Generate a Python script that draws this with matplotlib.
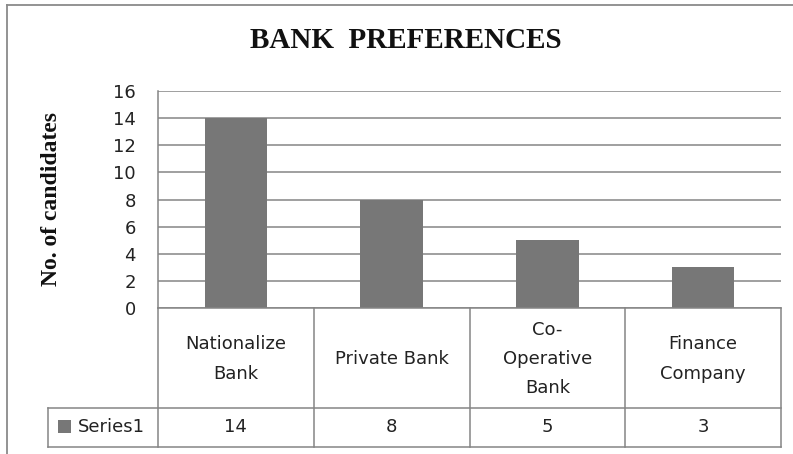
import matplotlib
matplotlib.use("Agg")
import matplotlib.pyplot as plt
import matplotlib.transforms as mtransforms
from matplotlib.lines import Line2D
from matplotlib.patches import Rectangle

# Data
categories = ["Nationalize\nBank", "Private Bank", "Co-\nOperative\nBank", "Finance\nCompany"]
series_name = "Series1"
values = [14, 8, 5, 3]
y_ticks = [0, 2, 4, 6, 8, 10, 12, 14, 16]

W, H = 793, 454
DPI = 100
fig = plt.figure(figsize=(W / DPI, H / DPI), dpi=DPI)
fig.patch.set_facecolor("white")

def fx(px):
    return px / W

def fy(py):
    return 1 - py / H

SANS = "DejaVu Sans"
SERIF = "Liberation Serif"
TEXT = "#222222"
GRID = "#858585"
BAR = "#777777"
FS = 13

# Plot area
left, right, top, bottom = 158, 781, 91, 308
ax = fig.add_axes([fx(left), fy(bottom), fx(right - left), (bottom - top) / H])
x = list(range(len(values)))
ax.bar(x, values, width=0.4, color=BAR, zorder=3)
ax.set_xlim(-0.5, len(values) - 0.5)
ax.set_ylim(0, 16)
ax.set_yticks(y_ticks)
ax.set_yticklabels([str(t) for t in y_ticks], fontsize=FS, family=SANS, color=TEXT)
ax.tick_params(axis="y", length=0, pad=16)
ax.set_xticks([])
ax.yaxis.grid(True, color=GRID, linewidth=1.1, zorder=0)
for s in ["top", "right", "bottom"]:
    ax.spines[s].set_visible(False)
ax.spines["left"].set_color(GRID)
ax.spines["left"].set_linewidth(1.1)

# Outer chart border
fig.add_artist(Line2D([fx(7), fx(7)], [fy(5), fy(H + 5)], transform=fig.transFigure,
                      color="#8a8a8a", linewidth=1.3))
fig.add_artist(Line2D([fx(7), fx(W + 5)], [fy(5), fy(5)], transform=fig.transFigure,
                      color="#8a8a8a", linewidth=1.3))

# Title and axis label
fig.text(fx(406), fy(41), "BANK  PREFERENCES", ha="center", va="center",
         family=SERIF, fontweight="bold", fontsize=21, color="#111111")
fig.text(fx(52), fy(199), "No. of candidates", ha="center", va="center", rotation=90,
         family=SERIF, fontweight="bold", fontsize=17, color="#111111")

# Data table below the plot area
row1_top, row2_top, row2_bot = bottom, 408, 447
tab_left = 48
btrans = mtransforms.blended_transform_factory(ax.transData, fig.transFigure)
line_kw = dict(color=GRID, linewidth=1.1, clip_on=False)

n = len(values)
for i in range(n + 1):
    xb = i - 0.5
    fig.add_artist(Line2D([xb, xb], [fy(row1_top), fy(row2_bot)], transform=btrans, **line_kw))
for yy in (row1_top, row2_top, row2_bot):
    x0 = fx(tab_left) if yy != row1_top else fx(left)
    fig.add_artist(Line2D([x0, fx(right)], [fy(yy), fy(yy)], transform=fig.transFigure, **line_kw))
fig.add_artist(Line2D([fx(tab_left), fx(tab_left)], [fy(row2_top), fy(row2_bot)],
                      transform=fig.transFigure, **line_kw))

row1_mid = (row1_top + row2_top) / 2 + 1
row2_mid = (row2_top + row2_bot) / 2
for i, (cat, v) in enumerate(zip(categories, values)):
    fig.text(i, fy(row1_mid), cat, transform=btrans, ha="center", va="center",
             family=SANS, fontsize=FS, color=TEXT, linespacing=1.8)
    fig.text(i, fy(row2_mid), str(v), transform=btrans, ha="center", va="center",
             family=SANS, fontsize=FS, color=TEXT)

# Legend key and series name in the label column
fig.add_artist(Rectangle((fx(58), fy(433)), fx(13), 13 / H, transform=fig.transFigure,
                         facecolor=BAR, edgecolor="none"))
fig.text(fx(78), fy(row2_mid), series_name, ha="left", va="center",
         family=SANS, fontsize=FS, color=TEXT)

fig.savefig("out.png", dpi=DPI, facecolor="white")
